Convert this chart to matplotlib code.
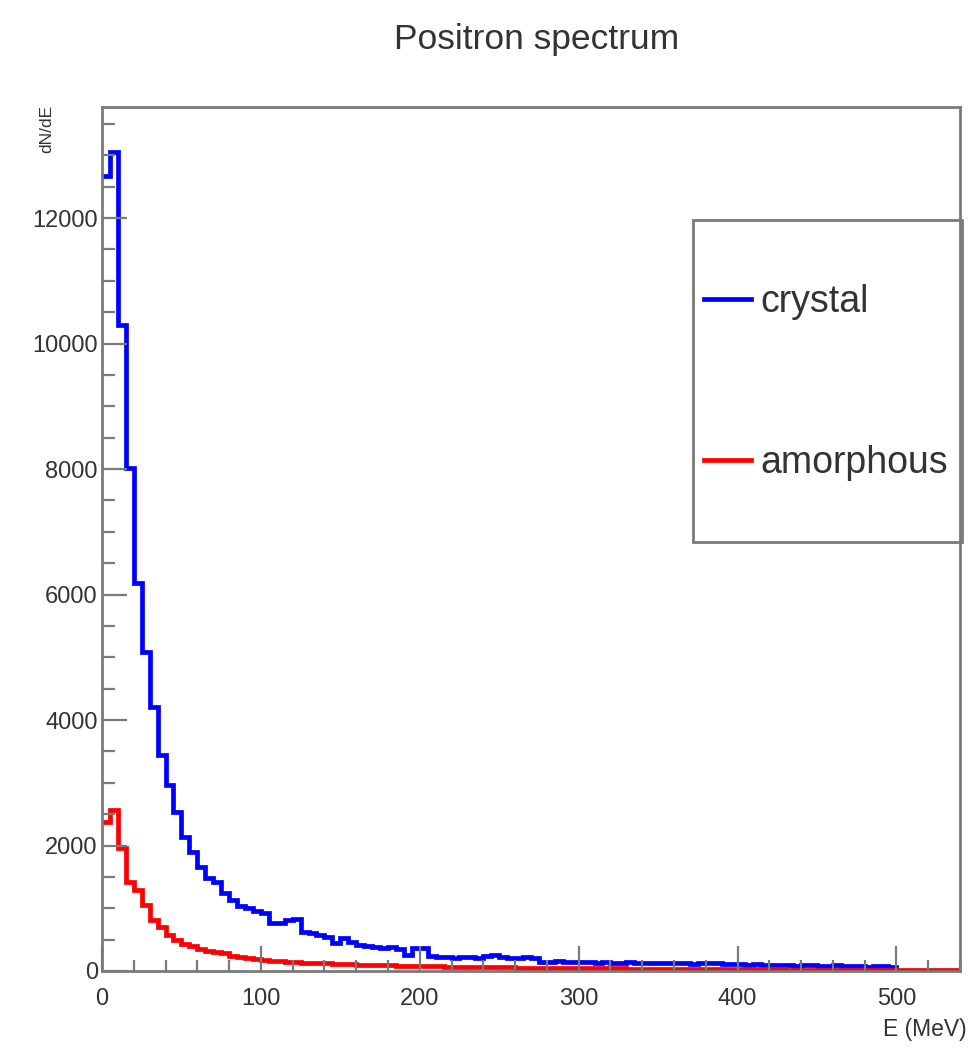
import numpy as np
import matplotlib
matplotlib.use("Agg")
import matplotlib.pyplot as plt
from matplotlib.patches import Rectangle

plt.rcParams['font.family'] = ['Liberation Sans', 'DejaVu Sans']

# Histogram data, 5 MeV bins from 0 to 540 MeV
bin_width = 5
crystal = [
    12670, 13050, 10300, 8020, 6180, 5080, 4210, 3440, 2960, 2530,
    2140, 1900, 1660, 1480, 1420, 1250, 1130, 1030, 1000, 950,
    920, 760, 760, 810, 830, 620, 600, 580, 540, 450,
    520, 470, 410, 400, 380, 370, 380, 350, 260, 370,
    360, 240, 230, 220, 210, 230, 220, 200, 240, 250,
    220, 200, 210, 230, 200, 150, 150, 160, 140, 150,
    150, 140, 130, 145, 135, 130, 140, 125, 130, 120,
    135, 125, 130, 120, 115, 125, 120, 130, 110, 115,
    110, 100, 105, 95, 100, 90, 100, 85, 95, 90,
    80, 85, 90, 75, 80, 85, 70, 80, 75, 70,
    0, 0, 0, 0, 0, 0, 0, 0,
]
amorphous = [
    2370, 2570, 1960, 1420, 1290, 1050, 810, 700, 570, 490,
    430, 400, 350, 320, 300, 280, 240, 220, 210, 190,
    170, 160, 155, 150, 140, 135, 130, 125, 120, 115,
    110, 105, 100, 100, 95, 90, 90, 85, 85, 80,
    80, 75, 75, 70, 70, 68, 65, 65, 62, 60,
    60, 58, 55, 55, 52, 50, 50, 48, 48, 45,
    45, 44, 43, 42, 41, 40, 39, 38, 37, 36,
    35, 35, 34, 33, 32, 31, 30, 30, 29, 28,
    27, 27, 26, 25, 25, 24, 23, 23, 22, 21,
    21, 20, 20, 19, 19, 18, 18, 17, 17, 16,
    15, 15, 14, 14, 13, 13, 12, 12,
]
labels = ["crystal", "amorphous"]
colors = ["#0000ff", "#ff0000"]

edges = np.arange(len(crystal) + 1) * bin_width

fig = plt.figure(figsize=(9.74, 10.52), dpi=100, facecolor='white')
ax = fig.add_axes([0.1047, 0.0770, 0.8809, 0.8213])

for vals, lab, col in zip([crystal, amorphous], labels, colors):
    ax.stairs(vals, edges, baseline=None, color=col, lw=3.4, label=lab)

ax.set_xlim(0, 540)
ax.set_ylim(0, 13770)
ax.set_xticks(np.arange(0, 501, 100))
ax.set_xticks(np.arange(0, 541, 20), minor=True)
ax.set_yticks(np.arange(0, 12001, 2000))
ax.set_yticks(np.arange(0, 13771, 500), minor=True)

frame_col = '#7a7a7a'
text_col = '#333333'
for s in ax.spines.values():
    s.set_color(frame_col)
    s.set_linewidth(2)

ax.tick_params(which='both', direction='in', color=frame_col, width=1.6,
               labelsize=17, labelcolor=text_col, top=False, right=False)
ax.tick_params(axis='y', which='major', length=18, pad=3)
ax.tick_params(axis='y', which='minor', length=9)
ax.tick_params(axis='x', which='major', length=18, pad=12)
ax.tick_params(axis='x', which='minor', length=8)

ax.text(-0.064, 1.002, "dN/dE", transform=ax.transAxes, rotation=90,
        ha='center', va='top', fontsize=12.5, color=text_col)
ax.text(1.008, -0.068, "E (MeV)", transform=ax.transAxes,
        ha='right', va='center', fontsize=16.5, color=text_col)

fig.text(0.551, 0.962, "Positron spectrum", ha='center', va='center',
         fontsize=25.5, color=text_col)

# legend entries without frame, box drawn separately
leg = ax.legend(loc='center left', bbox_to_anchor=(0.689, 0.681),
                fontsize=27, frameon=False, borderpad=0.3,
                handlelength=1.25, handletextpad=0.25,
                labelspacing=3.35, borderaxespad=0)
for t in leg.get_texts():
    t.set_color(text_col)
ax.add_patch(Rectangle((0.689, 0.4965), 0.313, 0.3725, transform=ax.transAxes,
                       fill=False, edgecolor=frame_col, lw=2, clip_on=False,
                       zorder=5))

fig.savefig("out.png", dpi=100, facecolor='white')
